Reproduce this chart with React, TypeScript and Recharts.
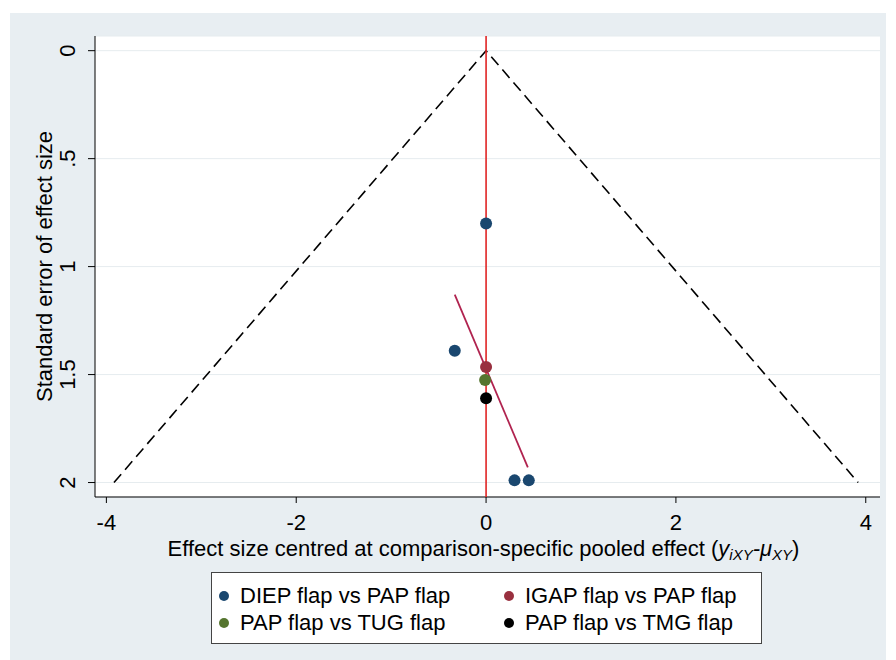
import { ScatterChart, Scatter, XAxis, YAxis, CartesianGrid, Label } from 'recharts';

// comparison groups (x = centred effect size, y = standard error)
const DIEP = [
  { x: 0, y: 0.8 },
  { x: -0.33, y: 1.39 },
  { x: 0.3, y: 1.99 },
  { x: 0.45, y: 1.99 },
];
const IGAP = [{ x: 0, y: 1.465 }];
const TUG = [{ x: -0.01, y: 1.525 }];
const TMG = [{ x: 0, y: 1.61 }];

// pseudo 95% CI funnel, fitted small-study line, zero line
const FUNNEL = [
  { x: -3.92, y: 2 },
  { x: 0, y: 0 },
  { x: 3.92, y: 2 },
];
const FIT = [
  { x: -0.33, y: 1.13 },
  { x: 0.44, y: 1.93 },
];
const ZERO = [
  { x: 0, y: -0.07 },
  { x: 0, y: 2.07 },
];

const X_TICKS = [-4, -2, 0, 2, 4];
const Y_TICKS = [0, 0.5, 1, 1.5, 2];
const yLabel = (v: number) => (v === 0.5 ? '.5' : String(v));

const NAVY = '#1a476f';
const MAROON = '#99303f';
const GREEN = '#55752f';
const BLACK = '#000000';
const FIT_COLOR = '#b0234f';
const ZERO_COLOR = '#e02424';
const BG = '#e8eef2';
const FONT = '"Liberation Sans", Arial, sans-serif';

const LEGEND = [
  { name: 'DIEP flap vs PAP flap', color: NAVY },
  { name: 'IGAP flap vs PAP flap', color: MAROON },
  { name: 'PAP flap vs TUG flap', color: GREEN },
  { name: 'PAP flap vs TMG flap', color: BLACK },
];

const nothing = () => <g />;
const dot = (color: string) => (p: any) => <circle cx={p.cx} cy={p.cy} r={6} fill={color} />;

function YTick({ x, y, payload }: any) {
  return (
    <text
      transform={`translate(${x - 11},${y}) rotate(-90)`}
      textAnchor="middle"
      fontSize={22}
      fontFamily={FONT}
      fill="#000"
    >
      {yLabel(payload.value)}
    </text>
  );
}

function XTitle({ viewBox }: any) {
  const cx = viewBox.x + viewBox.width / 2 - 4;
  return (
    <text x={cx} y={viewBox.y + 59} textAnchor="middle" fontSize={22} fontFamily={FONT} fill="#000">
      Effect size centred at comparison-specific pooled effect (
      <tspan fontStyle="italic">y</tspan>
      <tspan fontStyle="italic" fontSize={15} dy={4}>iXY</tspan>
      <tspan fontStyle="italic" dy={-4}>-μ</tspan>
      <tspan fontStyle="italic" fontSize={15} dy={4}>XY</tspan>
      <tspan dy={-4}>)</tspan>
    </text>
  );
}

function YTitle({ viewBox }: any) {
  const cy = viewBox.y + viewBox.height / 2;
  return (
    <text
      transform={`translate(42,${cy}) rotate(-90)`}
      textAnchor="middle"
      fontSize={22}
      fontFamily={FONT}
      fill="#000"
    >
      Standard error of effect size
    </text>
  );
}

export default function App() {
  return (
    <div style={{ position: 'absolute', left: 0, top: 0, width: 896, height: 660, background: '#fff' }}>
      <div style={{ position: 'absolute', left: 10, top: 13, width: 876, height: 647, background: BG }}>
        <ScatterChart width={876} height={647} margin={{ top: 23, right: 6, bottom: 0, left: 0 }}>
          <CartesianGrid vertical={false} stroke="#e6ecef" fill="#ffffff" />
          <XAxis
            type="number"
            dataKey="x"
            domain={[-4.12, 4.15]}
            allowDataOverflow
            ticks={X_TICKS}
            height={163}
            tickSize={6}
            tickMargin={11}
            axisLine={{ stroke: '#000' }}
            tickLine={{ stroke: '#000' }}
            tick={{ fill: '#000', fontSize: 22, fontFamily: FONT }}
          >
            <Label content={XTitle} />
          </XAxis>
          <YAxis
            type="number"
            dataKey="y"
            reversed
            domain={[-0.068, 2.067]}
            allowDataOverflow
            ticks={Y_TICKS}
            width={85}
            tickSize={7}
            axisLine={{ stroke: '#000' }}
            tickLine={{ stroke: '#000' }}
            tick={YTick}
          >
            <Label content={YTitle} />
          </YAxis>
          <Scatter
            data={FUNNEL}
            line={{ stroke: '#000', strokeWidth: 1.6, strokeDasharray: '11 6' }}
            shape={nothing}
            isAnimationActive={false}
          />
          <Scatter data={ZERO} line={{ stroke: ZERO_COLOR, strokeWidth: 1.6 }} shape={nothing} isAnimationActive={false} />
          <Scatter data={FIT} line={{ stroke: FIT_COLOR, strokeWidth: 1.8 }} shape={nothing} isAnimationActive={false} />
          <Scatter data={DIEP} shape={dot(NAVY)} isAnimationActive={false} />
          <Scatter data={IGAP} shape={dot(MAROON)} isAnimationActive={false} />
          <Scatter data={TUG} shape={dot(GREEN)} isAnimationActive={false} />
          <Scatter data={TMG} shape={dot(BLACK)} isAnimationActive={false} />
        </ScatterChart>
      </div>
      <div
        style={{
          position: 'absolute',
          left: 211,
          top: 572,
          width: 551,
          height: 72,
          border: '1px solid #444',
          background: '#fff',
          display: 'grid',
          gridTemplateColumns: '285px 1fr',
          gridAutoRows: '27px',
          paddingTop: 9,
          paddingLeft: 7,
          boxSizing: 'border-box',
          fontFamily: FONT,
          fontSize: 22,
          color: '#000',
        }}
      >
        {LEGEND.map((d) => (
          <div key={d.name} style={{ display: 'flex', alignItems: 'center', gap: 11, lineHeight: '27px' }}>
            <span style={{ width: 10, height: 10, borderRadius: 5, background: d.color, display: 'inline-block' }} />
            <span>{d.name}</span>
          </div>
        ))}
      </div>
    </div>
  );
}
